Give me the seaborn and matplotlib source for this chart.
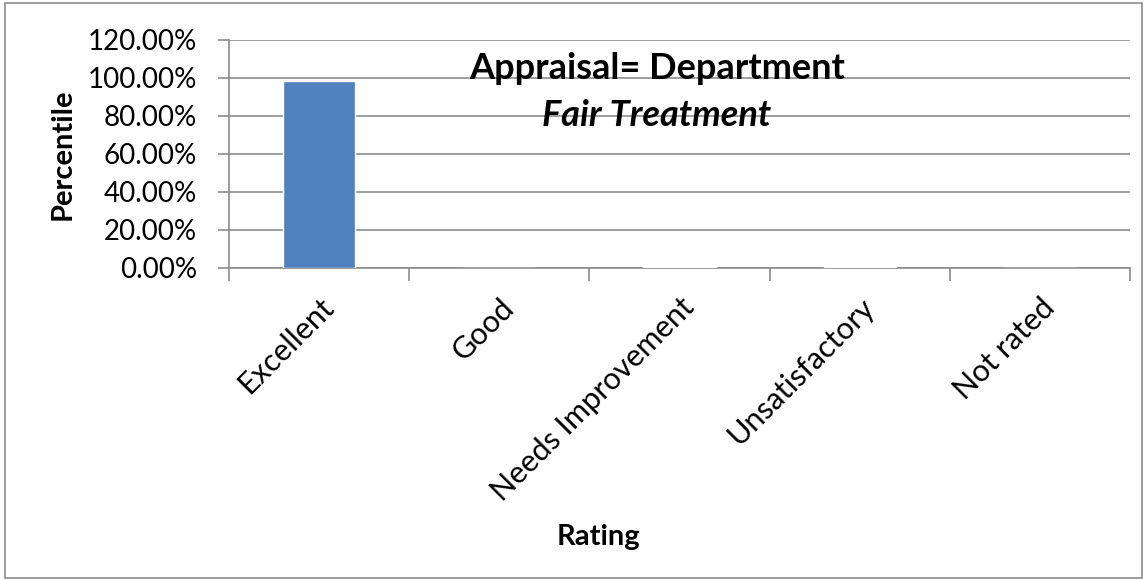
import pandas as pd
import seaborn as sns
import matplotlib.pyplot as plt
from matplotlib.ticker import FixedLocator, PercentFormatter

ratings = ["Excellent", "Good", "Needs Improvement", "Unsatisfactory", "Not rated"]
percentiles = [0.984, 0.0, 0.005, 0.005, 0.0]

dados = pd.DataFrame({"Rating": ratings, "Percentile": percentiles})

sns.set_theme(style="white")
plt.rcParams["font.family"] = ["Lato", "DejaVu Sans"]
plt.rcParams["text.color"] = "black"
plt.rcParams["axes.labelcolor"] = "black"

fig = plt.figure(figsize=(11.47, 5.8), dpi=100)
ax = fig.add_axes([229 / 1147, 1 - 268 / 580, (1130 - 229) / 1147, (268 - 40) / 580])

sns.barplot(data=dados, x="Rating", y="Percentile", color="#4F81BD", width=0.4,
            saturation=1, ax=ax, zorder=3)

ax.set_ylim(0, 1.2)
ax.set_xlim(-0.5, 4.5)
ax.yaxis.set_major_locator(FixedLocator([i * 0.2 for i in range(7)]))
ax.yaxis.set_major_formatter(PercentFormatter(1.0, decimals=2))
ax.grid(axis="y", color="#8c8c8c", linewidth=1.2, zorder=0)

for s in ["top", "right"]:
    ax.spines[s].set_visible(False)
for s in ["left", "bottom"]:
    ax.spines[s].set_color("#8c8c8c")
    ax.spines[s].set_linewidth(1.2)

ax.tick_params(axis="y", direction="out", length=8, width=1.2, color="#8c8c8c",
               labelsize=20, left=True, pad=15, labelcolor="black")
ax.xaxis.set_minor_locator(FixedLocator([i - 0.5 for i in range(6)]))
ax.tick_params(axis="x", which="minor", direction="out", length=9, width=1.2,
               color="#8c8c8c", bottom=True)
ax.tick_params(axis="x", which="major", length=0, labelsize=22, pad=18, labelcolor="black")
plt.setp(ax.get_xticklabels(), rotation=45, ha="right", rotation_mode="anchor")

ax.set_ylabel("Percentile", fontsize=21, fontweight="bold", va="center")
ax.yaxis.set_label_coords(-0.185, 0.5)
ax.set_xlabel("Rating", fontsize=21, fontweight="bold", va="center")
ax.xaxis.set_label_coords(0.41, -1.18)

ax.text(0.475, 0.875, "Appraisal= Department", transform=ax.transAxes,
        ha="center", va="center", fontsize=26, fontweight="bold")
ax.text(0.475, 0.67, "Fair Treatment", transform=ax.transAxes,
        ha="center", va="center", fontsize=26, fontweight="bold", fontstyle="italic")

fig.patches.append(plt.Rectangle((0.004, 0.004), 0.992, 0.99, transform=fig.transFigure,
                                 fill=False, edgecolor="#8c8c8c", linewidth=1.2))

plt.savefig("out.png", dpi=100)
plt.close()
